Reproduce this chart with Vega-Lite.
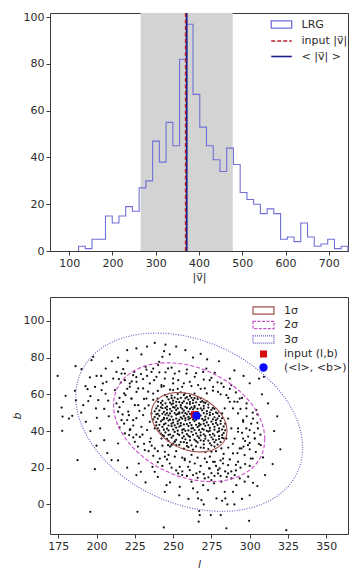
{
  "$schema": "https://vega.github.io/schema/vega-lite/v6.json",
  "padding": {"left": 10, "top": 10, "right": 5, "bottom": 5},
  "bounds": "flush",
  "spacing": 46,
  "config": {
    "view": {"stroke": "#3a3a3a", "strokeWidth": 1},
    "axis": {"domain": false, "grid": false, "tickColor": "#3a3a3a", "tickSize": 4, "labelFont": "DejaVu Sans", "labelFontSize": 11, "labelColor": "#2a2a2a", "labelFlush": false, "titleFont": "DejaVu Sans", "titleFontWeight": "normal", "titleFontSize": 11, "titleColor": "#2a2a2a"},
    "legend": {"labelFont": "DejaVu Sans", "labelFontSize": 11, "labelColor": "#2a2a2a", "padding": 0}
  },
  "resolve": {"scale": {"color": "independent", "x": "independent", "y": "independent"}, "legend": {"color": "independent"}},
  "vconcat": [
    {
      "width": 298,
      "height": 238,
      "layer": [
        {
          "data": {"values": [{"lo": 265, "hi": 478}]},
          "mark": {"type": "rect", "color": "#d3d3d3"},
          "encoding": {
            "x": {"field": "lo", "type": "quantitative", "scale": {"domain": [55.5, 744.5], "nice": false, "zero": false}, "axis": {"values": [100, 200, 300, 400, 500, 600, 700], "title": "|v⃗|", "titlePadding": 3}},
            "x2": {"field": "hi"}
          }
        },
        {
          "data": {"values": [
            {"i": 0, "v": 121.5, "n": 0, "s": "LRG"},
            {"i": 1, "v": 121.5, "n": 2, "s": "LRG"},
            {"i": 2, "v": 137.1, "n": 1, "s": "LRG"},
            {"i": 3, "v": 152.6, "n": 5, "s": "LRG"},
            {"i": 4, "v": 168.2, "n": 5, "s": "LRG"},
            {"i": 5, "v": 183.8, "n": 15, "s": "LRG"},
            {"i": 6, "v": 199.4, "n": 12, "s": "LRG"},
            {"i": 7, "v": 214.9, "n": 15, "s": "LRG"},
            {"i": 8, "v": 230.5, "n": 19, "s": "LRG"},
            {"i": 9, "v": 246.1, "n": 17, "s": "LRG"},
            {"i": 10, "v": 261.6, "n": 27, "s": "LRG"},
            {"i": 11, "v": 277.2, "n": 30, "s": "LRG"},
            {"i": 12, "v": 292.8, "n": 47, "s": "LRG"},
            {"i": 13, "v": 308.3, "n": 38, "s": "LRG"},
            {"i": 14, "v": 323.9, "n": 55, "s": "LRG"},
            {"i": 15, "v": 339.5, "n": 45, "s": "LRG"},
            {"i": 16, "v": 355.1, "n": 82, "s": "LRG"},
            {"i": 17, "v": 370.6, "n": 97, "s": "LRG"},
            {"i": 18, "v": 386.2, "n": 67, "s": "LRG"},
            {"i": 19, "v": 401.8, "n": 53, "s": "LRG"},
            {"i": 20, "v": 417.3, "n": 45, "s": "LRG"},
            {"i": 21, "v": 432.9, "n": 39, "s": "LRG"},
            {"i": 22, "v": 448.5, "n": 34, "s": "LRG"},
            {"i": 23, "v": 464.0, "n": 44, "s": "LRG"},
            {"i": 24, "v": 479.6, "n": 37, "s": "LRG"},
            {"i": 25, "v": 495.2, "n": 25, "s": "LRG"},
            {"i": 26, "v": 510.8, "n": 22, "s": "LRG"},
            {"i": 27, "v": 526.3, "n": 20, "s": "LRG"},
            {"i": 28, "v": 541.9, "n": 16, "s": "LRG"},
            {"i": 29, "v": 557.5, "n": 18, "s": "LRG"},
            {"i": 30, "v": 573.0, "n": 16, "s": "LRG"},
            {"i": 31, "v": 588.6, "n": 5, "s": "LRG"},
            {"i": 32, "v": 604.2, "n": 6, "s": "LRG"},
            {"i": 33, "v": 619.7, "n": 4, "s": "LRG"},
            {"i": 34, "v": 635.3, "n": 12, "s": "LRG"},
            {"i": 35, "v": 650.9, "n": 6, "s": "LRG"},
            {"i": 36, "v": 666.5, "n": 2, "s": "LRG"},
            {"i": 37, "v": 682.0, "n": 3, "s": "LRG"},
            {"i": 38, "v": 697.6, "n": 5, "s": "LRG"},
            {"i": 39, "v": 713.2, "n": 1, "s": "LRG"},
            {"i": 40, "v": 728.7, "n": 2, "s": "LRG"},
            {"i": 41, "v": 744.3, "n": 2, "s": "LRG"},
            {"i": 42, "v": 744.3, "n": 0, "s": "LRG"}
          ]},
          "mark": {"type": "line", "interpolate": "step-after", "strokeWidth": 1.1},
          "encoding": {
            "x": {"field": "v", "type": "quantitative", "scale": {"domain": [55.5, 744.5], "nice": false, "zero": false}},
            "y": {"field": "n", "type": "quantitative", "scale": {"domain": [0, 101.8], "nice": false}, "axis": {"values": [0, 20, 40, 60, 80, 100], "title": null}},
            "order": {"field": "i", "type": "quantitative"},
            "color": {"field": "s", "type": "nominal",
              "scale": {"domain": ["LRG", "input |v⃗|", "< |v⃗| >"], "range": ["#7070d8", "#b5202a", "#1c1c8f"]},
              "legend": {"orient": "none", "legendX": 226, "legendY": 6, "title": null, "symbolSize": 144, "labelOffset": 14.5, "rowPadding": 3.5,
                "encode": {"symbols": {"update": {
                  "shape": {"signal": "datum.value === 'LRG' ? 'M-1,-0.35H1V0.35H-1Z' : 'M-1,0H1'"},
                  "size": {"signal": "datum.value === 'LRG' ? 420 : 420"},
                  "strokeDash": {"signal": "datum.value === 'input |v⃗|' ? [4,2] : []"},
                  "strokeWidth": {"signal": "datum.value === 'LRG' ? 1.3 : 1.6"},
                  "fill": {"signal": "datum.value === 'LRG' ? 'transparent' : 'transparent'"},
                  "fillOpacity": {"signal": "datum.value === 'LRG' ? 0 : 0"}
                }}}}
            }
          }
        },
        {
          "data": {"values": [{"v": 371.6, "s": "< |v⃗| >"}]},
          "mark": {"type": "rule", "strokeWidth": 1.8},
          "encoding": {
            "x": {"field": "v", "type": "quantitative", "scale": {"domain": [55.5, 744.5], "nice": false, "zero": false}},
            "color": {"field": "s", "type": "nominal"}
          }
        },
        {
          "data": {"values": [{"v": 368.9, "s": "input |v⃗|"}]},
          "mark": {"type": "rule", "strokeWidth": 1.4, "strokeDash": [4, 2.5]},
          "encoding": {
            "x": {"field": "v", "type": "quantitative", "scale": {"domain": [55.5, 744.5], "nice": false, "zero": false}},
            "color": {"field": "s", "type": "nominal"}
          }
        }
      ]
    },
    {
      "width": 298,
      "height": 237,
      "layer": [
        {
          "data": {"values": [
{"l":174.6,"b":70},{"l":177.2,"b":52.8},{"l":177.8,"b":47.9},{"l":177.6,"b":40.1},{"l":179.8,"b":59.2},{"l":182,"b":46.8},{"l":184.1,"b":48.3},{"l":186.3,"b":75.3},{"l":185.9,"b":61.9},{"l":186.5,"b":56.8},{"l":187.6,"b":24.1},{"l":190.2,"b":73.7},{"l":191.3,"b":54.1},{"l":192.8,"b":64.4},{"l":194.1,"b":62.8},{"l":194.6,"b":56.3},{"l":195.7,"b":69.2},{"l":196.7,"b":78.6},{"l":197.8,"b":80.4},{"l":195.9,"b":-4},{"l":198.9,"b":19.2},{"l":199.6,"b":52.3},{"l":200.2,"b":47.2},{"l":201.1,"b":56.8},{"l":202.4,"b":41.4},{"l":203.3,"b":62.3},{"l":204.1,"b":65.9},{"l":205,"b":35},{"l":205.9,"b":60.3},{"l":206.5,"b":66.8},{"l":207.6,"b":56.5},{"l":209.8,"b":24.2},{"l":210.9,"b":68.6},{"l":212,"b":62.3},{"l":213,"b":72.2},{"l":214.1,"b":33.2},{"l":215.9,"b":66.4},{"l":216.3,"b":71.3},{"l":217.4,"b":73.7},{"l":218.5,"b":67.7},{"l":218.9,"b":59.5},{"l":220.2,"b":78.2},{"l":221.1,"b":48.6},{"l":221.3,"b":37.8},{"l":221.7,"b":64.1},{"l":222.8,"b":57.7},{"l":223.9,"b":70.4},{"l":225,"b":54.1},{"l":226.1,"b":66.8},{"l":226.7,"b":-4},{"l":227.6,"b":22.3},{"l":228.9,"b":17.8},{"l":229.3,"b":81.7},{"l":230.4,"b":63.2},{"l":231.5,"b":52.3},{"l":232.6,"b":73.5},{"l":233.7,"b":61.4},{"l":234.8,"b":45},{"l":235.4,"b":36},{"l":236.5,"b":20.5},{"l":237.6,"b":67.7},{"l":238,"b":17.8},{"l":239.8,"b":57.7},{"l":240.9,"b":77.7},{"l":242.4,"b":65},{"l":243,"b":80.4},{"l":244.1,"b":83.5},{"l":244.6,"b":26},{"l":243.9,"b":-12.5},{"l":244.6,"b":6.9},{"l":245.7,"b":10.5},{"l":247.8,"b":81.8},{"l":249,"b":32.3},{"l":250,"b":68.6},{"l":253.3,"b":16.9},{"l":254.3,"b":9.6},{"l":255.9,"b":16},{"l":257.6,"b":25},{"l":259.8,"b":20.5},{"l":260.9,"b":23.2},{"l":262,"b":12.4},{"l":263,"b":8.7},{"l":265.2,"b":16.9},{"l":265.9,"b":6.6},{"l":266.3,"b":3.3},{"l":267,"b":-3.6},{"l":267.4,"b":-5.8},{"l":266.7,"b":-9.4},{"l":268.5,"b":2.4},{"l":269.6,"b":10.5},{"l":270.7,"b":14.2},{"l":271.7,"b":74},{"l":272.2,"b":79},{"l":272.8,"b":7.8},{"l":273.5,"b":19.6},{"l":274.6,"b":-5.8},{"l":275,"b":13.3},{"l":276.1,"b":23.2},{"l":276.7,"b":11.5},{"l":277.2,"b":71.7},{"l":278.3,"b":3.3},{"l":279.3,"b":16.9},{"l":280.4,"b":19.6},{"l":281.1,"b":-5.8},{"l":281.5,"b":12.4},{"l":282.6,"b":22.3},{"l":283.7,"b":6.9},{"l":284.1,"b":3.3},{"l":284.8,"b":-13},{"l":285.4,"b":0},{"l":285.9,"b":16.9},{"l":287,"b":68.6},{"l":288,"b":65},{"l":288,"b":14.2},{"l":289.1,"b":6.9},{"l":290.2,"b":16},{"l":291.3,"b":10.5},{"l":292,"b":55.9},{"l":292.4,"b":39.6},{"l":293.5,"b":14.2},{"l":294.6,"b":30.5},{"l":295.7,"b":45.9},{"l":296.7,"b":12.4},{"l":297.8,"b":41.4},{"l":299,"b":15.1},{"l":299.6,"b":-8.9},{"l":300.7,"b":25},{"l":302.2,"b":11.8},{"l":303.3,"b":35.9},{"l":304.3,"b":51.4},{"l":305,"b":49},{"l":306.1,"b":68.6},{"l":308.7,"b":25.6},{"l":309.3,"b":69.5},{"l":323.9,"b":-14},
{"l":214.6,"b":68.3},{"l":218.5,"b":71.3},{"l":221.7,"b":65.9},{"l":224.6,"b":72.2},{"l":227.2,"b":63.2},{"l":230.4,"b":68.3},{"l":232,"b":75},{"l":234.8,"b":65.9},{"l":235.9,"b":72.2},{"l":239.1,"b":69.5},{"l":240.2,"b":75.9},{"l":242.4,"b":64.1},{"l":244.6,"b":68.6},{"l":246.7,"b":74.1},{"l":250,"b":65.9},{"l":251.1,"b":71.3},{"l":253.3,"b":67.7},{"l":255.9,"b":64.1},{"l":258.7,"b":71.3},{"l":260.9,"b":66.8},{"l":264.1,"b":69.5},{"l":266.3,"b":65},{"l":269.6,"b":72.2},{"l":270.7,"b":63.2},{"l":273.9,"b":67.7},{"l":276.1,"b":64.1},{"l":279.3,"b":61.3},{"l":281.5,"b":65.9},{"l":284.8,"b":59.5},{"l":287,"b":55.9},{"l":289.1,"b":52.3},{"l":292.4,"b":49.6},{"l":293.5,"b":57.7},{"l":295.7,"b":45},{"l":297.8,"b":52.3},{"l":300,"b":40.5},{"l":302.2,"b":46.8},{"l":303.3,"b":36},{"l":298.9,"b":32.3},{"l":296.7,"b":26.9},{"l":293.5,"b":30.5},{"l":292.4,"b":23.2},{"l":289.1,"b":27.8},{"l":285.9,"b":21.4},{"l":282.6,"b":25},{"l":279.3,"b":18.7},{"l":277.2,"b":23.2},{"l":273.9,"b":19.6},{"l":270.7,"b":25},{"l":267.4,"b":17.8},{"l":264.1,"b":22.3},{"l":260.9,"b":18.7},{"l":257.6,"b":24.1},{"l":254.3,"b":20.5},{"l":251.1,"b":26},{"l":247.8,"b":22.3},{"l":244.6,"b":28.7},{"l":241.3,"b":25},{"l":238,"b":30.5},{"l":234.8,"b":34.1},{"l":231.5,"b":29.6},{"l":228.3,"b":36.8},{"l":225,"b":34.1},{"l":221.7,"b":40.5},{"l":218.5,"b":38.7},{"l":216.3,"b":45.9},{"l":214.1,"b":50.5},{"l":217.4,"b":55.9},{"l":220.7,"b":50.5},{"l":223.9,"b":45.9},{"l":227.2,"b":54.1},{"l":230.4,"b":48.7},{"l":232.6,"b":57.7},{"l":229.3,"b":42.3},{"l":226.1,"b":61.3},{"l":222.8,"b":57.7},{"l":238,"b":41.4},{"l":240.2,"b":55.9},{"l":235.9,"b":49.6},{"l":242.4,"b":35.9},{"l":246.7,"b":32.3},{"l":251.1,"b":34.1},{"l":237,"b":60.4},{"l":244.6,"b":59.5},{"l":250,"b":62.3},{"l":257.6,"b":60.4},{"l":283.7,"b":52.3},{"l":285.9,"b":46.8},{"l":288,"b":41.4},{"l":284.8,"b":35.9},{"l":290.2,"b":35.9},{"l":281.5,"b":30.5},{"l":275,"b":28.7},{"l":295.7,"b":35.9},{"l":292.4,"b":41.4},{"l":305.4,"b":41.4},{"l":307.2,"b":32.3},
{"l":262,"b":27},{"l":266,"b":25.5},{"l":271,"b":28.5},{"l":274,"b":26},{"l":278,"b":29},{"l":283,"b":27.5},{"l":286,"b":31},{"l":289,"b":33},{"l":292,"b":28},{"l":296,"b":31.5},{"l":299,"b":37},{"l":301,"b":44},{"l":298,"b":48},{"l":294,"b":52},{"l":290,"b":56},{"l":286,"b":58},{"l":281,"b":60},{"l":276,"b":62},{"l":272,"b":60.5},{"l":268,"b":63},{"l":262,"b":64.5},{"l":257,"b":66},{"l":253,"b":63},{"l":248,"b":62.5},{"l":244,"b":64.5},{"l":240,"b":61.8},{"l":237,"b":57},{"l":234,"b":54},{"l":231,"b":57.5},{"l":228,"b":51},{"l":226,"b":47},{"l":224,"b":43},{"l":226,"b":38},{"l":230,"b":38},{"l":233,"b":40.5},{"l":236,"b":32},{"l":240,"b":29},{"l":243,"b":32},{"l":247,"b":27},{"l":252,"b":29},{"l":256,"b":25.5},{"l":268,"b":21},{"l":275,"b":17},{"l":281,"b":24},{"l":287,"b":24.5},{"l":291,"b":21.5},{"l":284,"b":18},{"l":278,"b":21},{"l":272,"b":23},
{"l":300,"b":30},{"l":297,"b":34.5},{"l":295,"b":39},{"l":303,"b":39},{"l":300,"b":33.5},{"l":305,"b":44.5},{"l":302,"b":50},{"l":298,"b":55},{"l":295,"b":58},{"l":291,"b":61},{"l":287,"b":63},{"l":283,"b":64},{"l":279,"b":66.5},{"l":275,"b":69},{"l":270,"b":68},{"l":265,"b":71.5},{"l":259,"b":73.5},{"l":254,"b":72.5},{"l":249,"b":74.5},{"l":245,"b":72},{"l":241,"b":72},{"l":237,"b":74},{"l":233,"b":70},{"l":229,"b":71},{"l":226,"b":69.3},{"l":223,"b":67},{"l":220,"b":63},{"l":218,"b":60.5},{"l":215,"b":58},{"l":213,"b":55},{"l":215,"b":53},{"l":217,"b":49},{"l":215,"b":42},{"l":218,"b":44},{"l":220,"b":46},{"l":222,"b":41},{"l":224,"b":36.5},{"l":227,"b":31.5},{"l":231,"b":33},{"l":234,"b":29},{"l":237,"b":26.5},{"l":240,"b":23},{"l":243,"b":21},{"l":246,"b":24.5},{"l":249,"b":20},{"l":252,"b":18.5},{"l":256,"b":18},{"l":259,"b":15.5},{"l":263,"b":16},{"l":266,"b":14.5},{"l":270,"b":16.5},{"l":273,"b":14.8},{"l":277,"b":15.5},{"l":281,"b":15.5},{"l":285,"b":15},{"l":288,"b":18},{"l":291,"b":18.5},{"l":294,"b":20},{"l":297,"b":22},{"l":300,"b":21},{"l":302,"b":25},{"l":304,"b":28.5},{"l":306,"b":33},{"l":307,"b":38},
{"l":200,"b":70},{"l":206,"b":74},{"l":210,"b":78},{"l":214,"b":80},{"l":220,"b":84},{"l":226,"b":85},{"l":233,"b":86},{"l":238,"b":88},{"l":245,"b":87},{"l":252,"b":86},{"l":258,"b":84},{"l":263,"b":80},{"l":268,"b":82},{"l":280,"b":78},{"l":290,"b":73},{"l":296,"b":70},{"l":300,"b":66},{"l":308,"b":60},{"l":312,"b":55},{"l":318,"b":48},{"l":316,"b":40},{"l":320,"b":30},{"l":315,"b":22},{"l":310,"b":16},{"l":305,"b":10},{"l":300,"b":5},{"l":295,"b":3},{"l":290,"b":0},{"l":282,"b":2},{"l":270,"b":0},{"l":260,"b":3},{"l":254,"b":5},{"l":248,"b":12},{"l":240,"b":15},{"l":232,"b":12},{"l":226,"b":16},{"l":220,"b":20},{"l":214,"b":24},{"l":207,"b":28},{"l":200,"b":32},{"l":196,"b":40},{"l":193,"b":45},{"l":190,"b":50},{"l":196,"b":59},{"l":199,"b":64},{"l":203,"b":70},{"l":208,"b":48},{"l":205,"b":52},
{"l":257,"b":30.4},{"l":263,"b":29.8},{"l":268,"b":31},{"l":273,"b":30.2},{"l":277,"b":31.5},{"l":250,"b":33.1},{"l":254,"b":32.4},{"l":259,"b":33.5},{"l":262,"b":32.2},{"l":266,"b":33.8},{"l":270,"b":32.7},{"l":274,"b":33.3},{"l":279,"b":32.6},{"l":281,"b":34},{"l":246,"b":35.7},{"l":249,"b":36.4},{"l":252,"b":35.2},{"l":256,"b":36.1},{"l":258,"b":35.5},{"l":261,"b":36.8},{"l":264,"b":35.3},{"l":267,"b":36.2},{"l":271,"b":35.8},{"l":275,"b":36.6},{"l":278,"b":35.1},{"l":282,"b":36.3},{"l":242,"b":38.6},{"l":245,"b":39.2},{"l":248,"b":38.1},{"l":251,"b":39.5},{"l":253,"b":38.4},{"l":256,"b":39.1},{"l":259,"b":38.3},{"l":262,"b":39.6},{"l":265,"b":38.7},{"l":268,"b":39.3},{"l":270,"b":38.2},{"l":273,"b":39.7},{"l":276,"b":38.5},{"l":279,"b":39.4},{"l":283,"b":38.8},{"l":240,"b":41.5},{"l":243,"b":42.2},{"l":246,"b":41.3},{"l":249,"b":42.6},{"l":252,"b":41.8},{"l":254,"b":42.4},{"l":257,"b":41.1},{"l":260,"b":42.7},{"l":263,"b":41.6},{"l":266,"b":42.1},{"l":269,"b":41.2},{"l":271,"b":42.8},{"l":274,"b":41.7},{"l":277,"b":42.3},{"l":280,"b":41.4},{"l":283,"b":42.5},{"l":239,"b":44.8},{"l":242,"b":45.3},{"l":245,"b":44.1},{"l":247,"b":45.7},{"l":250,"b":44.6},{"l":253,"b":45.2},{"l":255,"b":44.3},{"l":258,"b":45.8},{"l":261,"b":44.5},{"l":264,"b":45.4},{"l":267,"b":44.2},{"l":270,"b":45.6},{"l":272,"b":44.7},{"l":275,"b":45.1},{"l":278,"b":44.4},{"l":281,"b":45.5},{"l":238,"b":47.6},{"l":241,"b":48.3},{"l":244,"b":47.2},{"l":247,"b":48.5},{"l":249,"b":47.9},{"l":252,"b":48.8},{"l":255,"b":47.4},{"l":257,"b":48.2},{"l":260,"b":47.7},{"l":262,"b":48.9},{"l":266,"b":47.3},{"l":268,"b":48.4},{"l":271,"b":47.8},{"l":274,"b":48.6},{"l":277,"b":47.5},{"l":280,"b":48.1},{"l":238,"b":50.7},{"l":241,"b":51.2},{"l":244,"b":50.4},{"l":246,"b":51.6},{"l":249,"b":50.9},{"l":252,"b":51.4},{"l":254,"b":50.2},{"l":257,"b":51.1},{"l":260,"b":50.6},{"l":263,"b":51.8},{"l":266,"b":50.3},{"l":269,"b":51.3},{"l":272,"b":50.8},{"l":275,"b":51.5},{"l":278,"b":50.1},{"l":240,"b":53.6},{"l":243,"b":54.2},{"l":246,"b":53.3},{"l":249,"b":54.5},{"l":252,"b":53.8},{"l":255,"b":54.1},{"l":258,"b":53.2},{"l":261,"b":54.7},{"l":264,"b":53.5},{"l":267,"b":54.3},{"l":270,"b":53.7},{"l":273,"b":54.4},{"l":243,"b":56.4},{"l":247,"b":57.2},{"l":250,"b":56.6},{"l":253,"b":57.5},{"l":257,"b":56.2},{"l":260,"b":57.1},{"l":263,"b":56.8},{"l":266,"b":57.4},{"l":269,"b":56.3},{"l":249,"b":59.3},{"l":253,"b":60.1},{"l":257,"b":59.6},{"l":261,"b":59.1},{"l":264,"b":60.4},
{"l":248,"b":31.5},{"l":260,"b":31.2},{"l":265,"b":34.5},{"l":255,"b":34},{"l":270,"b":34.6},{"l":277,"b":33.9},{"l":244,"b":37.3},{"l":260,"b":37.4},{"l":268,"b":37.6},{"l":280,"b":37.2},{"l":247,"b":40.3},{"l":258,"b":40.1},{"l":264,"b":40.5},{"l":274,"b":40.2},{"l":282,"b":40.8},{"l":241,"b":43.4},{"l":251,"b":43.1},{"l":257,"b":43.6},{"l":262,"b":43.2},{"l":268,"b":43.5},{"l":276,"b":43.8},{"l":284,"b":44},{"l":244,"b":46.5},{"l":250,"b":46.1},{"l":256,"b":46.7},{"l":263,"b":46.3},{"l":269,"b":46.6},{"l":279,"b":46.8},{"l":240,"b":49.3},{"l":246,"b":49.8},{"l":254,"b":49.5},{"l":259,"b":49.1},{"l":265,"b":49.7},{"l":272,"b":49.4},{"l":282,"b":49.6},{"l":243,"b":52.4},{"l":251,"b":52.7},{"l":256,"b":52.1},{"l":262,"b":52.9},{"l":268,"b":52.3},{"l":276,"b":52.6},{"l":248,"b":55.4},{"l":254,"b":55.7},{"l":259,"b":55.1},{"l":265,"b":55.6},{"l":271,"b":55.2},{"l":251,"b":58.2},{"l":259,"b":58.4},{"l":266,"b":58.6},{"l":255,"b":61.1},
{"l":259,"b":31.8},{"l":265,"b":31.6},{"l":270,"b":30.8},{"l":275,"b":32.2},{"l":252,"b":32.3},{"l":247,"b":34.6},{"l":251,"b":34.4},{"l":257,"b":33.9},{"l":261,"b":34.9},{"l":268,"b":34.9},{"l":273,"b":34.8},{"l":276,"b":35.5},{"l":280,"b":35.6},{"l":283,"b":36},{"l":243,"b":37.7},{"l":247,"b":37.9},{"l":250,"b":37.4},{"l":254,"b":37.8},{"l":257,"b":37.1},{"l":263,"b":37.9},{"l":266,"b":37.2},{"l":271,"b":37.3},{"l":274,"b":37.9},{"l":277,"b":37.5},{"l":282,"b":37.8},{"l":241,"b":40.2},{"l":244,"b":40.7},{"l":250,"b":40.8},{"l":253,"b":40.2},{"l":256,"b":40.6},{"l":260,"b":40.3},{"l":262,"b":41.4},{"l":267,"b":40.6},{"l":270,"b":40.7},{"l":272,"b":40.1},{"l":277,"b":40.7},{"l":280,"b":39.9},{"l":284,"b":40.4},{"l":239,"b":43.1},{"l":244,"b":43.6},{"l":247,"b":43},{"l":249,"b":44},{"l":253,"b":43.9},{"l":255,"b":42.9},{"l":259,"b":43.8},{"l":265,"b":43.4},{"l":267,"b":42.9},{"l":270,"b":43.9},{"l":273,"b":43.2},{"l":279,"b":43.3},{"l":281,"b":43.9},{"l":237,"b":46.3},{"l":240,"b":46.7},{"l":243,"b":46},{"l":246,"b":46.9},{"l":248,"b":46.2},{"l":252,"b":46.8},{"l":254,"b":46.1},{"l":258,"b":47},{"l":260,"b":46.3},{"l":261,"b":46.9},{"l":265,"b":46.1},{"l":267,"b":46.9},{"l":271,"b":46.2},{"l":273,"b":46.9},{"l":276,"b":46.4},{"l":278,"b":45.9},{"l":282,"b":47},{"l":239,"b":49.1},{"l":243,"b":49.4},{"l":245,"b":48.9},{"l":248,"b":49.6},{"l":251,"b":49.8},{"l":253,"b":49.3},{"l":256,"b":50},{"l":258,"b":49.7},{"l":261,"b":49.4},{"l":263,"b":50.1},{"l":267,"b":49.3},{"l":270,"b":49.8},{"l":274,"b":50},{"l":276,"b":49.2},{"l":279,"b":49.6},{"l":239,"b":52.3},{"l":242,"b":52.9},{"l":245,"b":52.6},{"l":248,"b":52.1},{"l":250,"b":53},{"l":253,"b":52.3},{"l":255,"b":52.9},{"l":259,"b":52.6},{"l":261,"b":52.1},{"l":264,"b":52.7},{"l":266,"b":52.1},{"l":270,"b":52.3},{"l":273,"b":52.8},{"l":277,"b":52.1},{"l":242,"b":55.3},{"l":245,"b":55.1},{"l":250,"b":55.1},{"l":252,"b":55.9},{"l":256,"b":55.3},{"l":261,"b":55.8},{"l":263,"b":55.2},{"l":268,"b":55.8},{"l":270,"b":55.6},{"l":272,"b":56.2},{"l":246,"b":58.6},{"l":249,"b":57.9},{"l":255,"b":58.1},{"l":258,"b":57.8},{"l":262,"b":58.1},{"l":264,"b":57.9},{"l":268,"b":57.8}
          ]},
          "mark": {"type": "circle", "size": 5, "color": "#111111", "opacity": 1},
          "encoding": {
            "x": {"field": "l", "type": "quantitative", "scale": {"domain": [169.6, 364.2], "nice": false, "zero": false}, "axis": {"values": [175, 200, 225, 250, 275, 300, 325, 350], "title": "l", "titleFontStyle": "italic", "titlePadding": 7}},
            "y": {"field": "b", "type": "quantitative", "scale": {"domain": [-16.1, 113], "nice": false, "zero": false}, "axis": {"values": [0, 20, 40, 60, 80, 100], "title": "b", "titleFontStyle": "italic", "titlePadding": 1}}
          }
        },
        {
          "data": {"values": [
{"k":"1σ","i":0,"l":285.2,"b":40.14},{"k":"1σ","i":1,"l":284.82,"b":42.91},{"k":"1σ","i":2,"l":283.71,"b":45.73},{"k":"1σ","i":3,"l":281.89,"b":48.52},{"k":"1σ","i":4,"l":279.42,"b":51.2},{"k":"1σ","i":5,"l":276.38,"b":53.68},{"k":"1σ","i":6,"l":272.85,"b":55.9},{"k":"1σ","i":7,"l":268.95,"b":57.77},{"k":"1σ","i":8,"l":264.79,"b":59.26},{"k":"1σ","i":9,"l":260.5,"b":60.3},{"k":"1σ","i":10,"l":256.21,"b":60.87},{"k":"1σ","i":11,"l":252.05,"b":60.96},{"k":"1σ","i":12,"l":248.15,"b":60.55},{"k":"1σ","i":13,"l":244.62,"b":59.67},{"k":"1σ","i":14,"l":241.58,"b":58.33},{"k":"1σ","i":15,"l":239.11,"b":56.58},{"k":"1σ","i":16,"l":237.29,"b":54.48},{"k":"1σ","i":17,"l":236.18,"b":52.08},{"k":"1σ","i":18,"l":235.8,"b":49.46},{"k":"1σ","i":19,"l":236.18,"b":46.69},{"k":"1σ","i":20,"l":237.29,"b":43.87},{"k":"1σ","i":21,"l":239.11,"b":41.08},{"k":"1σ","i":22,"l":241.58,"b":38.4},{"k":"1σ","i":23,"l":244.62,"b":35.92},{"k":"1σ","i":24,"l":248.15,"b":33.7},{"k":"1σ","i":25,"l":252.05,"b":31.83},{"k":"1σ","i":26,"l":256.21,"b":30.34},{"k":"1σ","i":27,"l":260.5,"b":29.3},{"k":"1σ","i":28,"l":264.79,"b":28.73},{"k":"1σ","i":29,"l":268.95,"b":28.64},{"k":"1σ","i":30,"l":272.85,"b":29.05},{"k":"1σ","i":31,"l":276.38,"b":29.93},{"k":"1σ","i":32,"l":279.42,"b":31.27},{"k":"1σ","i":33,"l":281.89,"b":33.02},{"k":"1σ","i":34,"l":283.71,"b":35.12},{"k":"1σ","i":35,"l":284.82,"b":37.52},{"k":"1σ","i":36,"l":285.2,"b":40.14},
{"k":"2σ","i":0,"l":309.9,"b":35.49},{"k":"2σ","i":1,"l":309.14,"b":41.01},{"k":"2σ","i":2,"l":306.92,"b":46.65},{"k":"2σ","i":3,"l":303.28,"b":52.24},{"k":"2σ","i":4,"l":298.34,"b":57.59},{"k":"2σ","i":5,"l":292.26,"b":62.56},{"k":"2σ","i":6,"l":285.2,"b":66.99},{"k":"2σ","i":7,"l":277.39,"b":70.75},{"k":"2σ","i":8,"l":269.08,"b":73.71},{"k":"2σ","i":9,"l":260.5,"b":75.8},{"k":"2σ","i":10,"l":251.92,"b":76.94},{"k":"2σ","i":11,"l":243.61,"b":77.11},{"k":"2σ","i":12,"l":235.8,"b":76.3},{"k":"2σ","i":13,"l":228.74,"b":74.53},{"k":"2σ","i":14,"l":222.66,"b":71.86},{"k":"2σ","i":15,"l":217.72,"b":68.36},{"k":"2σ","i":16,"l":214.08,"b":64.15},{"k":"2σ","i":17,"l":211.86,"b":59.35},{"k":"2σ","i":18,"l":211.1,"b":54.11},{"k":"2σ","i":19,"l":211.86,"b":48.59},{"k":"2σ","i":20,"l":214.08,"b":42.95},{"k":"2σ","i":21,"l":217.72,"b":37.36},{"k":"2σ","i":22,"l":222.66,"b":32.01},{"k":"2σ","i":23,"l":228.74,"b":27.04},{"k":"2σ","i":24,"l":235.8,"b":22.61},{"k":"2σ","i":25,"l":243.61,"b":18.85},{"k":"2σ","i":26,"l":251.92,"b":15.89},{"k":"2σ","i":27,"l":260.5,"b":13.8},{"k":"2σ","i":28,"l":269.08,"b":12.66},{"k":"2σ","i":29,"l":277.39,"b":12.49},{"k":"2σ","i":30,"l":285.2,"b":13.3},{"k":"2σ","i":31,"l":292.26,"b":15.07},{"k":"2σ","i":32,"l":298.34,"b":17.74},{"k":"2σ","i":33,"l":303.28,"b":21.24},{"k":"2σ","i":34,"l":306.92,"b":25.45},{"k":"2σ","i":35,"l":309.14,"b":30.25},{"k":"2σ","i":36,"l":309.9,"b":35.49},
{"k":"3σ","i":0,"l":334.6,"b":30.83},{"k":"3σ","i":1,"l":333.46,"b":39.12},{"k":"3σ","i":2,"l":330.13,"b":47.58},{"k":"3σ","i":3,"l":324.67,"b":55.95},{"k":"3σ","i":4,"l":317.26,"b":63.99},{"k":"3σ","i":5,"l":308.14,"b":71.44},{"k":"3σ","i":6,"l":297.55,"b":78.09},{"k":"3σ","i":7,"l":285.84,"b":83.72},{"k":"3σ","i":8,"l":273.36,"b":88.17},{"k":"3σ","i":9,"l":260.5,"b":91.3},{"k":"3σ","i":10,"l":247.64,"b":93.02},{"k":"3σ","i":11,"l":235.16,"b":93.27},{"k":"3σ","i":12,"l":223.45,"b":92.05},{"k":"3σ","i":13,"l":212.86,"b":89.4},{"k":"3σ","i":14,"l":203.74,"b":85.39},{"k":"3σ","i":15,"l":196.33,"b":80.15},{"k":"3σ","i":16,"l":190.87,"b":73.83},{"k":"3σ","i":17,"l":187.54,"b":66.63},{"k":"3σ","i":18,"l":186.4,"b":58.77},{"k":"3σ","i":19,"l":187.54,"b":50.48},{"k":"3σ","i":20,"l":190.87,"b":42.02},{"k":"3σ","i":21,"l":196.33,"b":33.65},{"k":"3σ","i":22,"l":203.74,"b":25.61},{"k":"3σ","i":23,"l":212.86,"b":18.16},{"k":"3σ","i":24,"l":223.45,"b":11.51},{"k":"3σ","i":25,"l":235.16,"b":5.88},{"k":"3σ","i":26,"l":247.64,"b":1.43},{"k":"3σ","i":27,"l":260.5,"b":-1.7},{"k":"3σ","i":28,"l":273.36,"b":-3.42},{"k":"3σ","i":29,"l":285.84,"b":-3.67},{"k":"3σ","i":30,"l":297.55,"b":-2.45},{"k":"3σ","i":31,"l":308.14,"b":0.2},{"k":"3σ","i":32,"l":317.26,"b":4.21},{"k":"3σ","i":33,"l":324.67,"b":9.45},{"k":"3σ","i":34,"l":330.13,"b":15.77},{"k":"3σ","i":35,"l":333.46,"b":22.98},{"k":"3σ","i":36,"l":334.6,"b":30.83}
          ]},
          "mark": {"type": "line", "interpolate": "catmull-rom", "strokeWidth": 1.1},
          "encoding": {
            "x": {"field": "l", "type": "quantitative", "scale": {"domain": [169.6, 364.2], "nice": false, "zero": false}},
            "y": {"field": "b", "type": "quantitative", "scale": {"domain": [-16.1, 113], "nice": false, "zero": false}},
            "order": {"field": "i", "type": "quantitative"},
            "detail": {"field": "k", "type": "nominal"},
            "strokeDash": {"field": "k", "type": "nominal", "scale": {"domain": ["1σ", "2σ", "3σ"], "range": [[1, 0], [4, 2], [1, 1.5]]}, "legend": null},
            "color": {"field": "k", "type": "nominal",
              "scale": {"domain": ["1σ", "2σ", "3σ", "input (l,b)", "(<l>, <b>)"], "range": ["#a0524d", "#c94fc9", "#5b5bc4", "#d40d0d", "#0a0aff"]},
              "legend": {"orient": "none", "legendX": 208, "legendY": 8, "title": null, "symbolSize": 100, "labelOffset": 15, "rowPadding": 1.5,
                "encode": {"symbols": {"update": {
                  "shape": {"signal": "indexof(['1σ','2σ','3σ'], datum.value) >= 0 ? 'M-1,-0.35H1V0.35H-1Z' : (datum.value === 'input (l,b)' ? 'square' : 'circle')"},
                  "size": {"signal": "indexof(['1σ','2σ','3σ'], datum.value) >= 0 ? 440 : (datum.value === 'input (l,b)' ? 50 : 70)"},
                  "fill": {"signal": "datum.value === 'input (l,b)' ? '#d40d0d' : (datum.value === '(<l>, <b>)' ? '#0a0aff' : 'transparent')"},
                  "fillOpacity": {"signal": "indexof(['1σ','2σ','3σ'], datum.value) >= 0 ? 0 : 1"},
                  "stroke": {"signal": "datum.value === '1σ' ? '#a0524d' : (datum.value === '2σ' ? '#c94fc9' : (datum.value === '3σ' ? '#5b5bc4' : 'transparent'))"},
                  "strokeDash": {"signal": "datum.value === '2σ' ? [3,1.5] : (datum.value === '3σ' ? [1,1] : [])"},
                  "strokeWidth": {"signal": "indexof(['1σ','2σ','3σ'], datum.value) >= 0 ? 1.2 : 0"}
                }}}}
            }
          }
        },
        {
          "data": {"values": [{"l": 263.9, "b": 48.9, "k": "input (l,b)"}]},
          "mark": {"type": "square", "size": 50, "opacity": 1},
          "encoding": {
            "x": {"field": "l", "type": "quantitative", "scale": {"domain": [169.6, 364.2], "nice": false, "zero": false}},
            "y": {"field": "b", "type": "quantitative", "scale": {"domain": [-16.1, 113], "nice": false, "zero": false}},
            "color": {"field": "k", "type": "nominal"}
          }
        },
        {
          "data": {"values": [{"l": 265.2, "b": 48.3, "k": "(<l>, <b>)"}]},
          "mark": {"type": "circle", "size": 64, "opacity": 1},
          "encoding": {
            "x": {"field": "l", "type": "quantitative", "scale": {"domain": [169.6, 364.2], "nice": false, "zero": false}},
            "y": {"field": "b", "type": "quantitative", "scale": {"domain": [-16.1, 113], "nice": false, "zero": false}},
            "color": {"field": "k", "type": "nominal"}
          }
        }
      ]
    }
  ]
}
